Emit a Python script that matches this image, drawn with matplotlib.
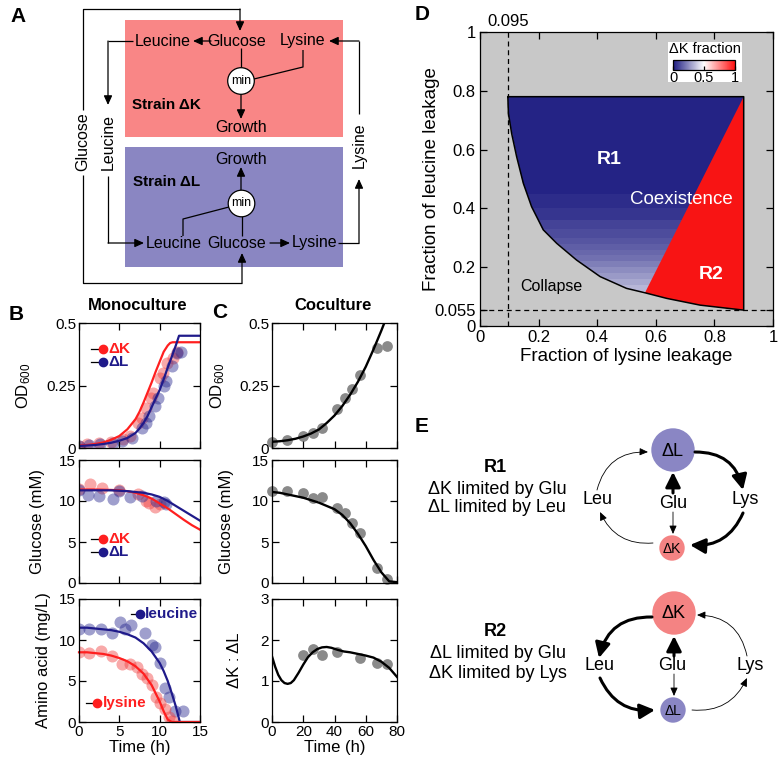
import numpy as np
import matplotlib
matplotlib.use('Agg')
import matplotlib.pyplot as plt
from matplotlib.patches import Rectangle, Circle, Polygon, FancyArrowPatch
from matplotlib.colors import LinearSegmentedColormap, Normalize
from matplotlib.cm import ScalarMappable

plt.rcParams['font.family'] = ['Liberation Sans', 'DejaVu Sans']
plt.rcParams['mathtext.default'] = 'regular'
plt.rcParams['axes.linewidth'] = 0.9

# ---- panel B : monoculture data ----
odK_t = [0, 1, 2.5, 4, 5.5, 6.3, 7.3, 7.8, 8.3, 8.9, 9.2, 10.0, 10.4, 10.9, 11.6, 12.1]
odK_v = [0.01, 0.015, 0.02, 0.025, 0.035, 0.05, 0.10, 0.12, 0.16, 0.20, 0.22, 0.28, 0.30, 0.34, 0.36, 0.385]
odL_t = [0, 1.2, 2.6, 4.2, 5.3, 6.6, 7.8, 8.3, 8.7, 9.4, 9.8, 10.5, 10.8, 11.5, 12.1, 12.7]
odL_v = [0.01, 0.012, 0.015, 0.02, 0.03, 0.04, 0.08, 0.10, 0.13, 0.17, 0.20, 0.25, 0.27, 0.33, 0.38, 0.385]
modK_t = [0, 1, 2, 3, 4, 5, 6, 7, 7.5, 8, 8.5, 9, 9.5, 10, 10.5, 11, 11.3, 11.6, 12, 15]
modK_od = [0.010, 0.012, 0.016, 0.022, 0.033, 0.048, 0.075, 0.115, 0.145, 0.182, 0.222, 0.262, 0.305, 0.345, 0.385, 0.410, 0.420, 0.423, 0.423, 0.423]
modL_t = [0, 1, 2, 3, 4, 5, 6, 7, 7.5, 8, 8.5, 9, 9.5, 10, 10.5, 11, 11.5, 12, 12.4, 15]
modL_od = [0.008, 0.010, 0.012, 0.016, 0.021, 0.029, 0.040, 0.060, 0.078, 0.100, 0.128, 0.163, 0.198, 0.232, 0.275, 0.322, 0.365, 0.41, 0.449, 0.449]

glcK_t = [0, 1.4, 2.8, 5.0, 7.3, 8.3, 8.7, 9.4, 10.0]
glcK_v = [11.5, 12.1, 11.6, 11.3, 10.9, 10.0, 9.7, 9.3, 9.6]
glcL_t = [0, 1.1, 2.5, 4.2, 5.0, 6.3, 7.8, 9.6, 10.5, 10.8]
glcL_v = [11.4, 10.7, 10.6, 10.2, 11.2, 10.5, 10.6, 10.0, 9.9, 9.6]
mglc_t = [0, 2, 4, 5, 6, 7, 8, 9, 10, 11, 12, 13, 14, 15]
mglcK = [11.4, 11.4, 11.35, 11.3, 11.2, 11.0, 10.7, 10.3, 9.7, 9.1, 8.4, 7.7, 7.05, 6.5]
mglcL = [11.3, 11.3, 11.3, 11.25, 11.2, 11.1, 11.0, 10.8, 10.5, 10.0, 9.4, 8.8, 8.2, 7.6]

leu_t = [0, 1.2, 2.7, 4.1, 5.1, 5.7, 6.5, 8.2, 9.0, 9.4, 10.0, 10.7, 11.1, 11.9, 12.9]
leu_v = [11.4, 11.4, 11.4, 10.8, 12.2, 11.4, 11.8, 10.8, 9.4, 9.2, 7.2, 4.1, 3.0, 1.3, 1.3]
lys_t = [0, 1.2, 2.7, 4.1, 5.3, 6.3, 7.2, 7.8, 8.4, 9.0, 9.6, 10.0, 10.7, 11.2, 11.5]
lys_v = [8.5, 8.4, 8.6, 8.0, 7.1, 7.1, 6.7, 5.9, 5.4, 4.5, 3.1, 2.3, 1.6, 0.6, 0.1]
maa_t = [0, 1, 2, 3, 4, 5, 6, 7, 8, 9, 10, 10.5, 11, 11.5, 12, 12.5, 15]
mleu = [11.5, 11.5, 11.4, 11.3, 11.2, 11.0, 10.7, 10.3, 9.6, 8.6, 7.2, 6.2, 5.0, 3.5, 1.9, 0.0, 0.0]
mlys = [8.5, 8.5, 8.4, 8.3, 8.1, 7.8, 7.4, 6.8, 5.9, 4.5, 2.5, 1.3, 0.3, 0.0, 0.0, 0.0, 0.0]

# ---- panel C : coculture data ----
co_t = [0, 9.4, 20, 26, 31.8, 41.8, 46.7, 51, 56.3, 67, 73.5]
co_od = [0.023, 0.032, 0.05, 0.062, 0.082, 0.156, 0.20, 0.237, 0.294, 0.40, 0.41]
co_glc = [11.2, 11.2, 11.0, 10.4, 10.5, 9.1, 8.5, 7.3, 6.1, 1.8, 0.5]
ratio_t = [20, 26, 31.8, 41.8, 56.3, 67, 73.5]
ratio_v = [1.63, 1.79, 1.63, 1.71, 1.55, 1.44, 1.42]
cm_t = [0, 5, 10, 15, 20, 25, 30, 35, 40, 45, 50, 55, 60, 65, 70, 75, 80]
cm_od = [0.025, 0.027, 0.031, 0.037, 0.046, 0.058, 0.074, 0.100, 0.130, 0.168, 0.213, 0.265, 0.325, 0.395, 0.47, 0.55, 0.63]
cm_glc = [11.1, 11.0, 10.8, 10.6, 10.4, 10.1, 9.8, 9.4, 9.0, 8.3, 7.3, 6.0, 4.5, 2.8, 1.3, 0.2, 0.1]
cr_t = [0, 2, 4, 6, 8, 10, 12, 14, 17, 20, 23, 26, 29, 32, 35, 38, 42, 46, 50, 55, 60, 65, 70, 75, 80]
cr_v = [1.6, 1.35, 1.15, 1.02, 0.95, 0.93, 0.95, 1.02, 1.2, 1.4, 1.58, 1.7, 1.78, 1.82, 1.83, 1.81, 1.76, 1.72, 1.7, 1.66, 1.62, 1.57, 1.47, 1.32, 1.1]

# ---- panel D : phase diagram ----
bound_x = [0.095, 0.097, 0.108, 0.125, 0.148, 0.176, 0.216, 0.262, 0.33, 0.41, 0.50, 0.563, 0.637, 0.751, 0.90]
bound_y = [0.78, 0.723, 0.655, 0.576, 0.485, 0.406, 0.327, 0.281, 0.224, 0.168, 0.128, 0.113, 0.094, 0.071, 0.054]
top_leu = 0.78
right_lys = 0.90
split_idx = 11  # boundary point where R1 meets R2
band_edges = [0.05, 0.10, 0.12, 0.14, 0.16, 0.18, 0.20, 0.22, 0.24, 0.26, 0.28, 0.30, 0.33, 0.36, 0.40, 0.45, 0.80]
band_kfrac = [0.40, 0.37, 0.34, 0.31, 0.28, 0.25, 0.22, 0.19, 0.17, 0.15, 0.13, 0.11, 0.09, 0.06, 0.04, 0.02]

RED = '#ff1f1f'
NAVY = '#1f1a8a'
W, H = 782, 766
fig = plt.figure(figsize=(W / 100, H / 100), dpi=100)


def add_ax(l, t, r, b):
    return fig.add_axes([l / W, 1 - b / H, (r - l) / W, (b - t) / H])


ov = fig.add_axes([0, 0, 1, 1])
ov.set_xlim(0, W)
ov.set_ylim(H, 0)
ov.axis('off')


def arrow(p0, p1, lw=0.9, hl=0.55, hw=0.25, rad=0.0, ms=10):
    ov.add_patch(FancyArrowPatch(p0, p1, arrowstyle=f'-|>,head_length={hl},head_width={hw}',
                                 connectionstyle=f'arc3,rad={rad}', lw=lw, color='k',
                                 shrinkA=0, shrinkB=0, mutation_scale=ms))


def line(xs, ys, lw=0.9):
    ov.plot(xs, ys, color='k', lw=lw, solid_capstyle='butt')


def txt(x, y, s, fs=11.5, **kw):
    ov.text(x, y, s, ha=kw.pop('ha', 'center'), va=kw.pop('va', 'center'), fontsize=fs, **kw)


# panel letters
for lab, x, y in [('A', 18, 17), ('B', 16, 315), ('C', 220, 313), ('D', 422, 15), ('E', 422, 427)]:
    txt(x, y, lab, fs=15, fontweight='bold')

# ---------------- A ----------------
ov.add_patch(Rectangle((125, 20), 218, 117, fc='#f98686', ec='none'))
ov.add_patch(Rectangle((125, 147), 218, 120, fc='#8a86c2', ec='none'))
txt(163, 41, 'Leucine'); txt(237, 41, 'Glucose'); txt(303, 41, 'Lysine')
txt(241, 128, 'Growth'); txt(241, 159, 'Growth')
txt(132, 105, 'Strain ΔK', fs=11, fontweight='bold', ha='left')
txt(133, 182, 'Strain ΔL', fs=11, fontweight='bold', ha='left')
txt(174, 243, 'Leucine'); txt(237, 243, 'Glucose'); txt(315, 243, 'Lysine')
txt(83, 142, 'Glucose', rotation=90)
txt(108, 142, 'Leucine', rotation=90)
txt(359, 145, 'Lysine', rotation=90)
# glucose loop
line([83, 83, 240], [110, 9, 9]); arrow((240, 9), (240, 31))
line([83, 83, 242], [175, 283, 283]); arrow((242, 283), (242, 253))
# leucine loop
line([133, 108], [41, 41]); arrow((108, 41), (108, 105))
line([108, 108], [176, 243]); arrow((108, 243), (144, 243))
# lysine loop
line([338, 359], [243, 243]); arrow((359, 243), (359, 179))
line([359, 359], [114, 41]); arrow((359, 41), (329, 41))
# red box internals
arrow((211, 41), (193, 41))
line([241, 241], [48, 67])
line([303, 303, 254], [50, 67, 79])
arrow((241, 94), (241, 119))
ov.add_patch(Circle((241, 81), 13.3, fc='white', ec='k', lw=0.9, zorder=3))
txt(241, 81, 'min', fs=9, zorder=4)
# blue box internals
arrow((241, 190), (241, 167))
line([183, 183, 229], [236, 219, 207])
line([242, 242], [236, 216])
arrow((270, 243), (290, 243))
ov.add_patch(Circle((241.5, 203.5), 13.3, fc='white', ec='k', lw=0.9, zorder=3))
txt(241.5, 203.5, 'min', fs=9, zorder=4)

# ---------------- B & C ----------------
txt(138, 306, 'Monoculture', fs=12, fontweight='bold')
txt(333, 306, 'Coculture', fs=12, fontweight='bold')


def style(ax, xt, yt, ytl, xlim, ylim, xlabels=False):
    ax.set_xlim(*xlim); ax.set_ylim(*ylim)
    ax.set_xticks(xt); ax.set_yticks(yt); ax.set_yticklabels(ytl)
    if not xlabels:
        ax.set_xticklabels([])
    ax.tick_params(direction='in', top=True, right=True, length=5, width=0.9,
                   labelsize=11, pad=2)


def leg(ax, x0, x1, y, s, c, fs=11):
    ax.plot([x0, x1], [y, y], color='k', lw=0.9, transform=ax.transAxes, clip_on=False)
    ax.plot([x1], [y], 'o', color=c, ms=6, transform=ax.transAxes, clip_on=False)
    ax.text(x1 + 0.045, y, s, color=c, fontsize=fs, fontweight='bold', va='center',
            transform=ax.transAxes)


bx_t = [0, 5, 10, 15]
b1 = add_ax(79, 323, 200, 448)
b1.scatter(odK_t, odK_v, s=75, color='#f04040', alpha=0.45, lw=0)
b1.scatter(odL_t, odL_v, s=75, color='#2a2a90', alpha=0.45, lw=0)
b1.plot(modK_t, modK_od, color=RED, lw=1.6)
b1.plot(modL_t, modL_od, color=NAVY, lw=1.6)
style(b1, bx_t, [0, 0.25, 0.5], ['0', '0.25', '0.5'], (0, 15), (0, 0.5))
b1.set_ylabel('OD$_{600}$', fontsize=12)
b1.yaxis.set_label_coords(-0.38, 0.5)
leg(b1, 0.1, 0.2, 0.79, 'ΔK', RED)
leg(b1, 0.1, 0.2, 0.685, 'ΔL', NAVY)

b2 = add_ax(79, 460, 200, 583)
b2.scatter(glcK_t, glcK_v, s=75, color='#f04040', alpha=0.45, lw=0)
b2.scatter(glcL_t, glcL_v, s=75, color='#2a2a90', alpha=0.45, lw=0)
b2.plot(mglc_t, mglcK, color=RED, lw=1.6)
b2.plot(mglc_t, mglcL, color=NAVY, lw=1.6)
style(b2, bx_t, [0, 5, 10, 15], ['0', '5', '10', '15'], (0, 15), (0, 15))
b2.set_ylabel('Glucose (mM)', fontsize=12)
b2.yaxis.set_label_coords(-0.285, 0.5)
leg(b2, 0.1, 0.2, 0.355, 'ΔK', RED)
leg(b2, 0.1, 0.2, 0.25, 'ΔL', NAVY)

b3 = add_ax(79, 599, 200, 722)
b3.scatter(leu_t, leu_v, s=75, color='#2a2a90', alpha=0.45, lw=0)
b3.scatter(lys_t, lys_v, s=75, color='#f04040', alpha=0.45, lw=0)
b3.plot(maa_t, mleu, color=NAVY, lw=1.6)
b3.plot(maa_t, mlys, color=RED, lw=1.6, clip_on=False)
style(b3, bx_t, [0, 5, 10, 15], ['0', '5', '10', '15'], (0, 15), (0, 15), xlabels=True)
b3.set_xticklabels(['0', '5', '10', '15'])
b3.set_xlabel('Time (h)', fontsize=12, labelpad=1)
b3.set_ylabel('Amino acid (mg/L)', fontsize=12)
b3.yaxis.set_label_coords(-0.23, 0.5)
leg(b3, 0.43, 0.5, 0.88, 'leucine', NAVY)
leg(b3, 0.06, 0.15, 0.155, 'lysine', RED)

cx_t = [0, 20, 40, 60, 80]
c1 = add_ax(272, 323, 397, 448)
c1.scatter(co_t, co_od, s=60, color='#8a8a8a', lw=0, clip_on=False)
c1.plot(cm_t, cm_od, color='k', lw=1.7)
style(c1, cx_t, [0, 0.25, 0.5], ['0', '0.25', '0.5'], (0, 80), (0, 0.5))
c1.set_ylabel('OD$_{600}$', fontsize=12)
c1.yaxis.set_label_coords(-0.36, 0.5)

c2 = add_ax(272, 460, 397, 583)
c2.scatter(co_t, co_glc, s=60, color='#8a8a8a', lw=0, clip_on=False)
c2.plot(cm_t, cm_glc, color='k', lw=1.7)
style(c2, cx_t, [0, 5, 10, 15], ['0', '5', '10', '15'], (0, 80), (0, 15))
c2.set_ylabel('Glucose (mM)', fontsize=12)
c2.yaxis.set_label_coords(-0.30, 0.5)

c3 = add_ax(272, 599, 397, 722)
c3.scatter(ratio_t, ratio_v, s=60, color='#8a8a8a', lw=0)
c3.plot(cr_t, cr_v, color='k', lw=1.7)
style(c3, cx_t, [0, 1, 2, 3], ['0', '1', '2', '3'], (0, 80), (0, 3), xlabels=True)
c3.set_xticklabels([str(v) for v in cx_t])
c3.set_xlabel('Time (h)', fontsize=12, labelpad=1)
c3.set_ylabel('ΔK : ΔL', fontsize=12)
c3.yaxis.set_label_coords(-0.24, 0.5)

# ---------------- D ----------------
cmap = LinearSegmentedColormap.from_list('kfrac', [(0, '#1b1a80'), (0.5, 'white'), (1, '#ff1010')])
d = add_ax(480, 32, 773, 326)
d.set_facecolor('#c8c8c8')
d.set_xlim(0, 1); d.set_ylim(0, 1)
d.axvline(0.095, color='k', lw=0.9, ls=(0, (4, 3)), zorder=1)
d.axhline(0.055, color='k', lw=0.9, ls=(0, (4, 3)), zorder=1)
outline_x = bound_x + [right_lys, bound_x[0]]
outline_y = bound_y + [top_leu, top_leu]
coex = Polygon(np.column_stack([outline_x, outline_y]), closed=True, transform=d.transData)
mesh = d.pcolormesh([0.08, 0.92], band_edges, np.array(band_kfrac)[:, None],
                    cmap=cmap, vmin=0, vmax=1, zorder=2)
mesh.set_clip_path(coex)
red_x = [right_lys] + bound_x[split_idx:]
red_y = [top_leu] + bound_y[split_idx:]
d.add_patch(Polygon(np.column_stack([red_x, red_y]), closed=True, fc='#f81414', ec='none', zorder=3))
d.plot(outline_x, outline_y, color='k', lw=1.1, zorder=4)
d.set_xticks([0, 0.2, 0.4, 0.6, 0.8, 1])
d.set_xticklabels(['0', '0.2', '0.4', '0.6', '0.8', '1'])
d.set_yticks([0, 0.055, 0.2, 0.4, 0.6, 0.8, 1])
d.set_yticklabels(['0', '0.055', '0.2', '0.4', '0.6', '0.8', '1'])
d.tick_params(direction='in', top=True, right=True, length=5, width=0.9, labelsize=12, pad=3)
d.set_xlabel('Fraction of lysine leakage', fontsize=13.5, labelpad=2)
d.set_ylabel('Fraction of leucine leakage', fontsize=13.5)
d.yaxis.set_label_coords(-0.137, 0.5)
d.text(0.095, 1.01, '0.095', ha='center', va='bottom', fontsize=12, transform=d.transData)
d.text(0.44, 0.567, 'R1', color='white', fontsize=14, fontweight='bold', ha='center', va='center', zorder=5)
d.text(0.688, 0.43, 'Coexistence', color='white', fontsize=13.5, ha='center', va='center', zorder=5)
d.text(0.79, 0.174, 'R2', color='white', fontsize=14, fontweight='bold', ha='center', va='center', zorder=5)
d.text(0.245, 0.136, 'Collapse', color='k', fontsize=11.5, ha='center', va='center', zorder=5)
d.add_patch(Rectangle((0.642, 0.83), 0.252, 0.136, fc='white', ec='none', zorder=5))
d.text(0.768, 0.943, 'ΔK fraction', fontsize=10.5, ha='center', va='center', zorder=6)
cax = add_ax(673, 60, 735, 70)
cb = fig.colorbar(ScalarMappable(Normalize(0, 1), cmap), cax=cax, orientation='horizontal')
cb.set_ticks([0, 0.5, 1])
cb.set_ticklabels(['0', '0.5', '1'])
cax.tick_params(direction='in', length=3, width=0.9, labelsize=10.5, pad=1)
cb.outline.set_linewidth(0.9)

# ---------------- E ----------------
LBLUE = '#8a86c4'
LRED = '#f48383'
txt(495, 468, 'R1', fs=13, fontweight='bold')
txt(497, 489, 'ΔK limited by Glu', fs=13)
txt(497, 507, 'ΔL limited by Leu', fs=13)
txt(495, 632, 'R2', fs=13, fontweight='bold')
txt(498, 653, 'ΔL limited by Glu', fs=13)
txt(498, 673, 'ΔK limited by Lys', fs=13)

ov.add_patch(Circle((673, 450), 21.7, fc=LBLUE, ec='none'))
txt(673, 451, 'ΔL', fs=13)
ov.add_patch(Circle((672, 548), 12.7, fc=LRED, ec='none'))
txt(672, 549, 'ΔK', fs=10)
txt(597, 500, 'Leu', fs=13); txt(673, 504, 'Glu', fs=13); txt(745, 500, 'Lys', fs=13)
arrow((673, 493), (673, 472), lw=2.2, hl=0.9, hw=0.45)
arrow((673, 512), (673, 534), lw=0.6, hl=0.5, hw=0.22)
arrow((695, 452), (743, 490), lw=2.2, hl=0.9, hw=0.45, rad=-0.4)
arrow((743, 513), (690, 545), lw=2.2, hl=0.9, hw=0.45, rad=-0.35)
arrow((653, 543), (600, 512), lw=0.6, hl=0.5, hw=0.22, rad=-0.35)
arrow((597, 490), (648, 452), lw=0.6, hl=0.5, hw=0.22, rad=-0.4)

ov.add_patch(Circle((674, 613), 21.7, fc=LRED, ec='none'))
txt(674, 614, 'ΔK', fs=13)
ov.add_patch(Circle((673, 710), 12.7, fc=LBLUE, ec='none'))
txt(673, 711, 'ΔL', fs=10)
txt(600, 666, 'Leu', fs=13); txt(672, 665, 'Glu', fs=13); txt(750, 666, 'Lys', fs=13)
arrow((674, 656), (674, 636), lw=2.2, hl=0.9, hw=0.45)
arrow((674, 674), (674, 696), lw=0.6, hl=0.5, hw=0.22)
arrow((652, 617), (599, 658), lw=2.2, hl=0.9, hw=0.45, rad=0.4)
arrow((600, 678), (655, 710), lw=2.2, hl=0.9, hw=0.45, rad=0.35)
arrow((692, 710), (747, 678), lw=0.6, hl=0.5, hw=0.22, rad=0.35)
arrow((747, 656), (697, 615), lw=0.6, hl=0.5, hw=0.22, rad=0.4)

fig.savefig('out.png', dpi=100)
